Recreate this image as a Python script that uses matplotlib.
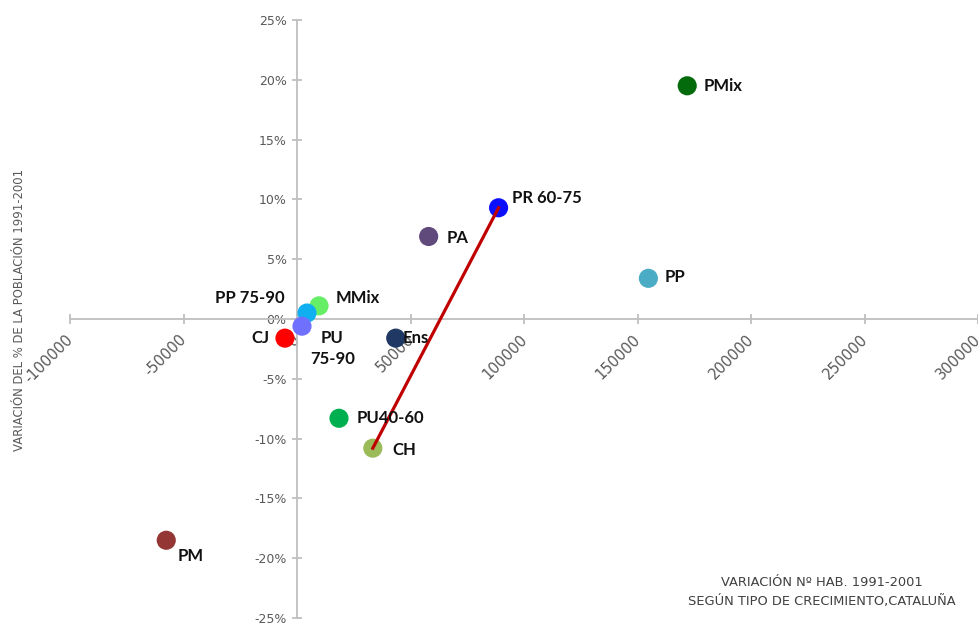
import matplotlib
matplotlib.use("Agg")
import matplotlib.pyplot as plt
import matplotlib.transforms as mtransforms
from matplotlib.ticker import FuncFormatter

plt.rcParams["axes.unicode_minus"] = False

# data
tipos = ["PMix", "PR 60-75", "PA", "PP", "MMix", "PP 75-90", "PU\n75-90",
         "CJ", "Ens", "PU40-60", "CH", "PM"]
var_hab = [171900, 88800, 58000, 154800, 9700, 4400, 2200,
           -5300, 43500, 18500, 33400, -57600]
var_pct = [19.5, 9.3, 6.9, 3.4, 1.1, 0.5, -0.6,
           -1.6, -1.6, -8.3, -10.8, -18.5]

colores = ["#036B0C", "#0A10FF", "#604A7B", "#4BACC6", "#66EE66", "#10B0F0",
           "#7070FF", "#FF0000", "#1F3864", "#00B050", "#9BBB59", "#943634"]
# label offsets in points, and alignment
offsets = [(12, 0), (10, 7), (13, -1), (12, 1), (12, 6), (-16, 11), (22, -16),
           (-11, 0), (5, 0), (13, 0), (14, -1), (8, -11)]
align = ["left", "left", "left", "left", "left", "right", "center",
         "right", "left", "left", "left", "left"]

# red trend line between CH and PR 60-75
linea = ["CH", "PR 60-75"]

fig = plt.figure(figsize=(9.79, 6.25), dpi=100)
ax = fig.add_axes([70 / 979, 7 / 625, 908 / 979, 598 / 625])

ax.set_xlim(-100000, 300000)
ax.set_ylim(-25, 25)
ax.set_xticks(range(-100000, 300001, 50000))
ax.set_yticks(range(-25, 26, 5))
ax.yaxis.set_major_formatter(FuncFormatter(lambda v, p: "%d%%" % v))

for s in ["top", "right"]:
    ax.spines[s].set_visible(False)
ax.spines["left"].set_position(("data", 0))
ax.spines["bottom"].set_position(("data", 0))
for s in ["left", "bottom"]:
    ax.spines[s].set_color("#BFBFBF")
    ax.spines[s].set_linewidth(1.3)
ax.tick_params(direction="inout", length=7, width=1.3, color="#BFBFBF",
               labelcolor="#595959", labelsize=9)
ax.tick_params(axis="x", labelsize=10.5, pad=2)
ax.tick_params(axis="y", pad=4)
shift = mtransforms.ScaledTranslation(6 / 100, -5 / 100, fig.dpi_scale_trans)
for lab in ax.get_xticklabels():
    lab.set_rotation(45)
    lab.set_ha("right")
    lab.set_va("top")
    lab.set_transform(lab.get_transform() + shift)

ax.scatter(var_hab, var_pct, s=190, c=colores, zorder=3, edgecolors="none")

i0, i1 = tipos.index(linea[0]), tipos.index(linea[1])
ax.plot([var_hab[i0], var_hab[i1]], [var_pct[i0], var_pct[i1]],
        color="#C00000", lw=2.3, zorder=4)

for i, t in enumerate(tipos):
    ax.annotate(t, (var_hab[i], var_pct[i]), xytext=offsets[i],
                textcoords="offset points", ha=align[i], va="center",
                fontsize=12, fontweight="bold", color="#111111",
                family="Lato", linespacing=1.4, zorder=5)

fig.text(20 / 979, 1 - 310 / 625, "VARIACIÓN DEL % DE LA POBLACIÓN 1991-2001",
         rotation=90, ha="center", va="center", fontsize=8.4, color="#595959")
fig.text(822 / 979, 1 - 592 / 625,
         "VARIACIÓN Nº HAB. 1991-2001\nSEGÚN TIPO DE CRECIMIENTO,CATALUÑA",
         ha="center", va="center", fontsize=9.4, color="#404040",
         linespacing=1.5)

fig.savefig("out.png", dpi=100)
